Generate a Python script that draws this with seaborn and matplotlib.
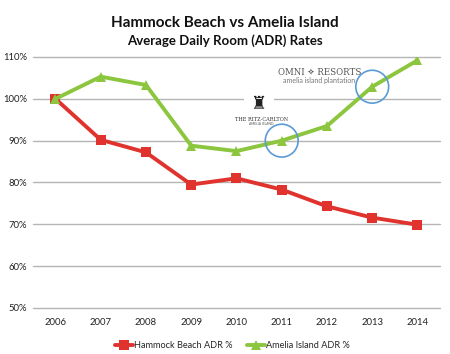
import pandas as pd
import matplotlib
matplotlib.use("Agg")
import matplotlib.pyplot as plt
import seaborn as sns

years = ["2006", "2007", "2008", "2009", "2010", "2011", "2012", "2013", "2014"]
hammock = [100, 90.2, 87.2, 79.5, 81.0, 78.3, 74.3, 71.6, 69.9]
amelia = [100, 105.3, 103.3, 88.8, 87.5, 90.0, 93.5, 102.9, 109.2]
series_names = ["Hammock Beach ADR %", "Amelia Island ADR %"]
y_ticks = [50, 60, 70, 80, 90, 100, 110]
circled_years = ["2011", "2013"]

sns.set_theme(style="white")
plt.rcParams["font.family"] = ["Lato", "DejaVu Sans"]

df = pd.DataFrame({
    "Year": years * 2,
    "Value": hammock + amelia,
    "Series": [series_names[0]] * len(years) + [series_names[1]] * len(years),
})
df["x"] = df["Year"].map({y: i for i, y in enumerate(years)})

fig = plt.figure(figsize=(4.5, 3.54), dpi=100)
ax = fig.add_axes([0.073, 0.13, 0.905, 0.709])

for v in y_ticks:
    ax.axhline(v, color="#b5b5b5", lw=1.0, zorder=0, clip_on=False)

palette = {series_names[0]: "#e0332e", series_names[1]: "#8cc63e"}
sns.lineplot(data=df, x="x", y="Value", hue="Series", style="Series",
             markers={series_names[0]: "s", series_names[1]: "^"},
             dashes=False, palette=palette, lw=2.8, markersize=7,
             markeredgewidth=0, ax=ax, legend=True, zorder=3)

# blue circles around Amelia 2011 and 2013
cx = [years.index(y) for y in circled_years]
cy = [amelia[i] for i in cx]
ax.scatter(cx, cy, s=560, facecolors="none", edgecolors="#5b9bd5", lw=1.2, zorder=4)

# logos as text
ax.text(5.83, 106.3, "OMNI ✧ RESORTS", fontsize=6.2, family=["DejaVu Serif", "DejaVu Sans"],
        color="#555555", ha="center", va="center", zorder=2)
ax.text(5.83, 104.4, "amelia island plantation", fontsize=5.0,
        color="#777777", ha="center", va="center", zorder=2)
ax.text(4.5, 98.8, "♜", fontsize=13, color="#222222", ha="center", va="center",
        family="DejaVu Sans", zorder=2,
        bbox=dict(facecolor="white", edgecolor="none", pad=5))
ax.text(4.55, 95.0, "THE RITZ-CARLTON", fontsize=3.6, family="DejaVu Serif",
        color="#333333", ha="center", va="center", zorder=2)
ax.text(4.55, 94.1, "AMELIA ISLAND", fontsize=2.4, color="#555555",
        ha="center", va="center", zorder=2)

ax.set_xlim(-0.5, 8.5)
ax.set_ylim(50, 110)
ax.set_xticks(range(len(years)))
ax.set_xticklabels(years)
ax.set_yticks(y_ticks)
ax.set_yticklabels([f"{v}%" for v in y_ticks])
ax.tick_params(axis="both", labelsize=6.8, length=0, colors="#222222")
ax.tick_params(axis="x", pad=7)
ax.tick_params(axis="y", pad=4)
ax.set_xlabel("")
ax.set_ylabel("")
for s in ax.spines.values():
    s.set_visible(False)

ax.legend(loc="upper center", bbox_to_anchor=(0.49, -0.1), ncol=2, frameon=False,
          fontsize=6.6, handlelength=2.0, handletextpad=0.1, columnspacing=1.6)

fig.text(0.5, 0.935, "Hammock Beach vs Amelia Island", ha="center", va="center",
         fontsize=11, fontweight="bold", color="#111111")
fig.text(0.5, 0.885, "Average Daily Room (ADR) Rates", ha="center", va="center",
         fontsize=9.5, fontweight="bold", color="#111111")

fig.savefig("out.png", dpi=100)
